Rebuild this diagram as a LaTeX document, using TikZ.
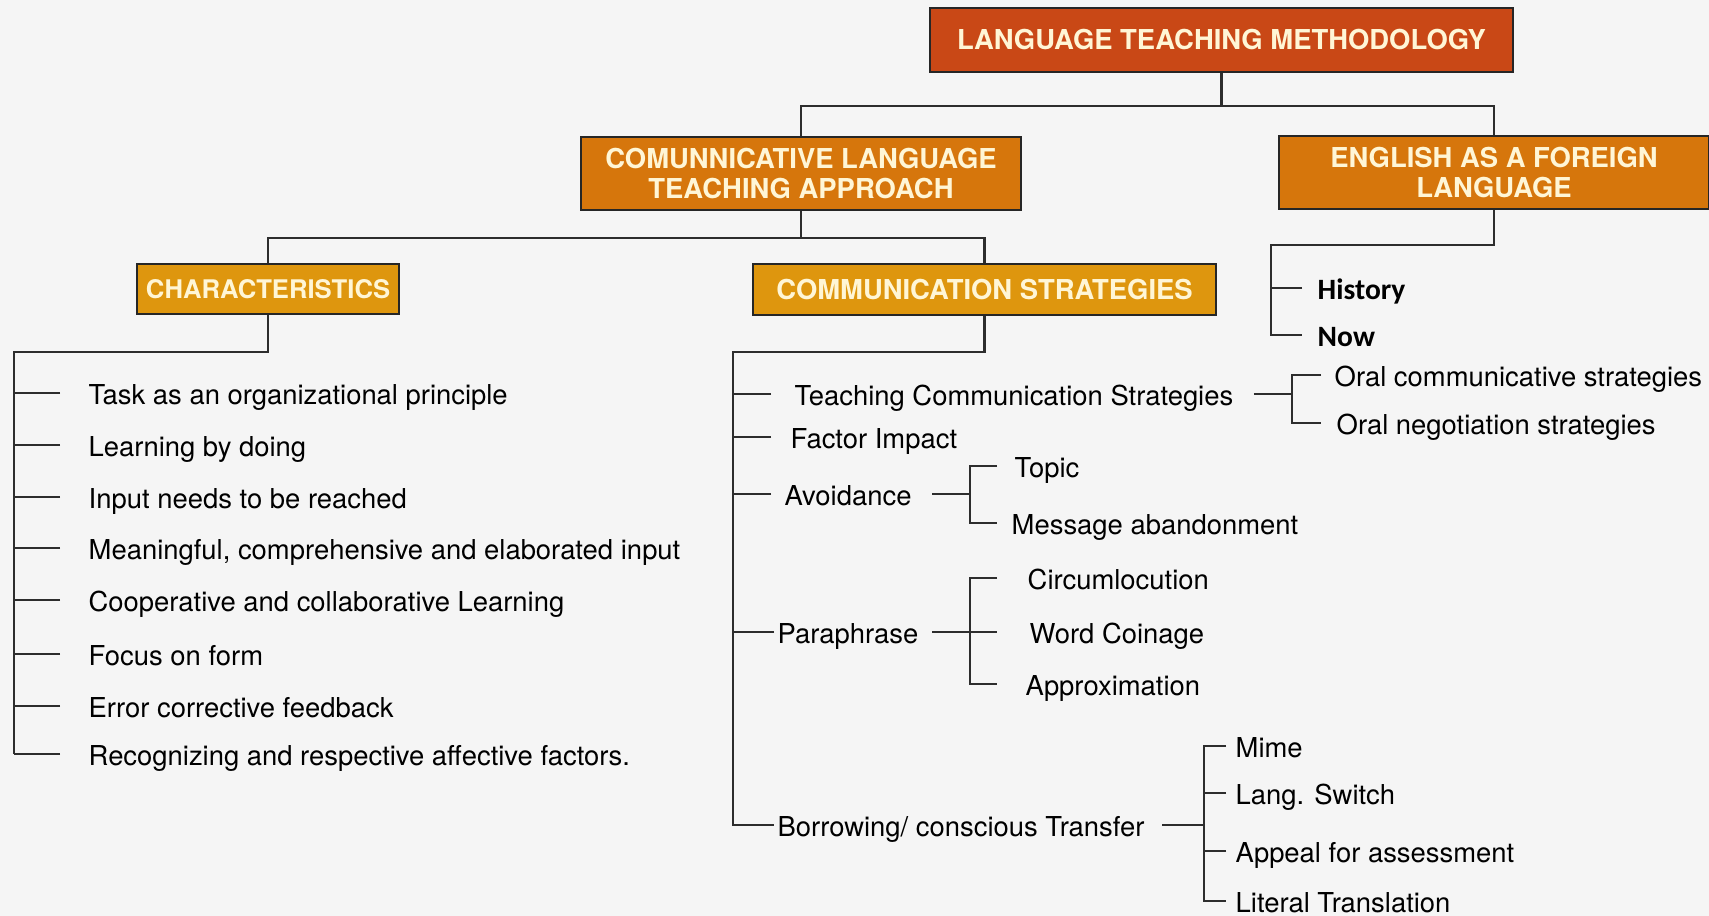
\documentclass[tikz,border=0pt]{standalone}
\usepackage{fontspec}
\setmainfont{TeX Gyre Heros}
\newfontfamily\calfont{Carlito}
\usetikzlibrary{positioning,calc}

\definecolor{bgcol}{RGB}{245,245,245}
\definecolor{linecol}{RGB}{45,45,45}
\definecolor{ltmred}{RGB}{201,72,22}
\definecolor{ctorange}{RGB}{214,118,12}
\definecolor{chgold}{RGB}{222,150,14}
\definecolor{boxtext}{RGB}{255,246,214}

\begin{document}
\begin{tikzpicture}[
  box/.style={rectangle, draw=black!85, line width=0.8pt, text=boxtext, align=center, inner sep=0pt, font=\fontsize{7.8}{8.6}\selectfont\bfseries},
  item/.style={anchor=west, inner sep=0pt, text height=1.5ex, text depth=.25ex, font=\fontsize{7.8}{9}\selectfont},
  bolditem/.style={item, font=\fontsize{8.4}{9}\selectfont\calfont\bfseries},
  link/.style={draw=linecol, line width=0.6pt},
]
\useasboundingbox[fill=bgcol] (0,0) rectangle (17.09,-9.16);

% boxes
\node[box, fill=ltmred, minimum width=5.83cm, minimum height=0.64cm] (ltm) at (12.215,-0.40) {LANGUAGE TEACHING METHODOLOGY};
\node[box, fill=ctorange, minimum width=4.40cm, minimum height=0.73cm] (clta) at (8.01,-1.735) {COMUNNICATIVE LANGUAGE\\TEACHING APPROACH};
\node[box, fill=ctorange, minimum width=4.30cm, minimum height=0.73cm] (efl) at (14.94,-1.725) {ENGLISH AS A FOREIGN\\LANGUAGE};
\node[box, fill=chgold, minimum width=2.62cm, minimum height=0.50cm, font=\fontsize{7.3}{8}\selectfont\bfseries] (char) at (2.68,-2.89) {CHARACTERISTICS};
\node[box, fill=chgold, minimum width=4.63cm, minimum height=0.51cm] (cs) at (9.845,-2.895) {COMMUNICATION STRATEGIES};

% tree links
\draw[link] (ltm.south) -- ++(0,-0.33) coordinate (j1);
\draw[link] (clta.north) |- (j1) -| (efl.north);
\draw[link] (clta.south) -- ++(0,-0.27) coordinate (j2);
\draw[link] (char.north) |- (j2) -| (cs.north);

% characteristics
\coordinate (cspine) at (0.14,-3.52);
\foreach \y/\txt [count=\i] in {3.93/Task as an organizational principle, 4.45/Learning by doing, 4.97/Input needs to be reached, 5.48/{Meaningful, comprehensive and elaborated input}, 6.00/Cooperative and collaborative Learning, 6.54/Focus on form, 7.06/Error corrective feedback, 7.54/Recognizing and respective affective factors.} {
  \node[item] (ch\i) at (0.88,-\y) {\txt};
  \draw[link] (ch\i.west) ++(-0.28,0) -- (ch\i.west -| cspine);
}
\draw[link] (char.south) |- (cspine) -- (cspine |- ch8.west);

% communication strategies
\coordinate (sspine) at (7.33,-3.52);
\node[item] (tcs) at (7.94,-3.94) {Teaching Communication Strategies};
\node[item] (fi) at (7.90,-4.37) {Factor Impact};
\node[item] (avo) at (7.84,-4.94) {Avoidance};
\node[item] (par) at (7.77,-6.32) {Paraphrase};
\node[item] (bor) at (7.77,-8.25) {Borrowing/ conscious Transfer};
\draw[link] (cs.south) |- (sspine) |- ([xshift=-0.3mm]bor.west);
\draw[link] (tcs.west) ++(-0.23,0) -- (tcs.west -| sspine);
\draw[link] (fi.west) ++(-0.19,0) -- (fi.west -| sspine);
\draw[link] (avo.west) ++(-0.13,0) -- (avo.west -| sspine);
\draw[link] (par.west) ++(-0.03,0) -- (par.west -| sspine);

% teaching communication strategies
\node[item] (oc) at (13.34,-3.75) {Oral communicative strategies};
\node[item] (on) at (13.36,-4.23) {Oral negotiation strategies};
\coordinate (tb) at (12.92,-3.94);
\draw[link] ([xshift=-1.3mm]oc.west) -| (tb) |- ([xshift=-1.5mm]on.west);
\draw[link] ([xshift=2mm]tcs.east) -- (tb);

% avoidance
\node[item] (topic) at (10.14,-4.66) {Topic};
\node[item] (msg) at (10.11,-5.23) {Message abandonment};
\coordinate (ab) at (9.70,-4.94);
\draw[link] ([xshift=-1.7mm]topic.west) -| (ab) |- ([xshift=-1.4mm]msg.west);
\draw[link] ([xshift=2mm]avo.east) -- (ab);

% paraphrase
\node[item] (circ) at (10.27,-5.78) {Circumlocution};
\node[item] (word) at (10.29,-6.32) {Word Coinage};
\node[item] (appr) at (10.25,-6.84) {Approximation};
\coordinate (pb) at (9.70,-6.32);
\draw[link] ([xshift=-3mm]circ.west) -| (pb) |- ([xshift=-2.8mm]appr.west);
\draw[link] ([xshift=1.3mm]par.east) -- ([xshift=-3.2mm]word.west);

% borrowing
\node[item] (mime) at (12.35,-7.46) {Mime};
\node[item] (lang) at (12.35,-7.93) {Lang. Switch};
\node[item] (appeal) at (12.35,-8.51) {Appeal for assessment};
\node[item] (lit) at (12.35,-9.01) {Literal Translation};
\coordinate (bb) at (12.04,-8.25);
\draw[link] ([xshift=-0.9mm]mime.west) -| (bb) |- ([xshift=-0.9mm]lit.west);
\draw[link] ([xshift=-0.9mm]lang.west) -- (lang.west -| bb);
\draw[link] ([xshift=-0.9mm]appeal.west) -- (appeal.west -| bb);
\draw[link] ([xshift=1.7mm]bor.east) -- (bb);

% english as a foreign language
\node[bolditem] (hist) at (13.17,-2.88) {History};
\node[bolditem] (now) at (13.17,-3.35) {Now};
\coordinate (espine) at (12.71,-2.45);
\draw[link] (efl.south) |- (espine) |- ([xshift=-1.5mm]now.west);
\draw[link] ([xshift=-1.5mm]hist.west) -- (hist.west -| espine);
\end{tikzpicture}
\end{document}
